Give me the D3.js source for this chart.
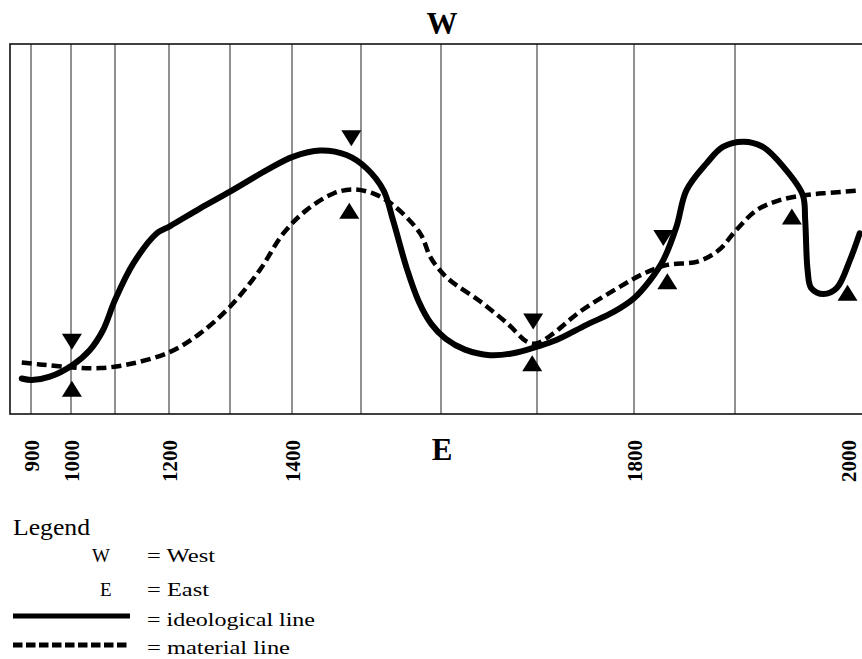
<!DOCTYPE html>
<html>
<head>
<meta charset="utf-8">
<script src="https://cdn.jsdelivr.net/npm/d3@7"></script>
<style>
  html, body { margin: 0; padding: 0; background: #fff; }
  svg { display: block; }
</style>
</head>
<body>
<svg id="chart" width="862" height="659"></svg>
<script>
// ---------------- data ----------------
const gridYears = [900, 1000, 1100, 1200, 1300, 1400, 1500, 1600, 1700, 1800, 1900];
const tickYears = [900, 1000, 1200, 1400, 1800, 2000];
const centerLabelYear = 1600;
const topLabel = "W";
const bottomLabel = "E";

// ideological line (solid): [year, level]
const ideologicalYears = [878, 902, 947, 1003, 1043, 1073, 1100, 1134, 1177, 1202, 1251, 1300, 1359, 1401, 1441, 1479, 1507, 1528, 1540, 1557, 1572, 1588, 1605, 1625, 1651, 1675, 1700, 1720, 1751, 1779, 1800, 1816, 1829, 1842, 1852, 1872, 1888, 1907, 1923, 1940, 1956, 1958, 1960, 1963, 1973, 1984, 1995, 2003];
const ideologicalLevels = [9.6, 9.2, 10.1, 13.2, 17.3, 22.7, 30.8, 40.7, 48.8, 50.8, 55.6, 60.1, 65.9, 69.5, 71.2, 70.0, 66.4, 60.5, 52.4, 39.5, 30.5, 24.3, 20.3, 17.4, 15.9, 16.4, 18.2, 20.0, 24.1, 27.6, 31.3, 36.2, 41.6, 50.6, 60.5, 67.8, 72.2, 73.6, 72.2, 66.8, 59.2, 52.4, 38.9, 34.0, 32.4, 34.0, 41.6, 48.8];

// material line (dashed): [year, level]
const materialYears = [878, 922, 1003, 1066, 1134, 1202, 1251, 1300, 1348, 1386, 1421, 1460, 1488, 1515, 1540, 1574, 1586, 1595, 1609, 1641, 1669, 1690, 1700, 1717, 1744, 1783, 1810, 1833, 1863, 1884, 1901, 1918, 1937, 1959, 1979, 2002];
const materialLevels = [13.9, 13.4, 12.6, 12.4, 13.7, 16.8, 21.8, 29.0, 38.9, 48.8, 55.1, 59.6, 60.7, 59.6, 56.5, 48.8, 42.7, 39.8, 36.2, 30.4, 24.5, 19.5, 19.1, 21.8, 27.6, 34.0, 38.0, 40.3, 41.2, 44.3, 49.7, 55.1, 57.8, 59.2, 59.8, 60.4];

// turning-point markers
const downMarkerYears = [1002, 1486, 1696, 1829];
const downMarkerLevels = [19.5, 74.5, 25.0, 47.6];
const upMarkerYears = [1002, 1483, 1695, 1833, 1947, 1993];
const upMarkerLevels = [6.8, 54.9, 13.7, 35.9, 53.4, 32.8];

// legend
const legendTitle = "Legend";
const legendSymbols = ["W", "E"];
const legendSymbolText = ["= West", "= East"];
const legendLineText = ["= ideological line", "= material line"];

// ---------------- drawing ----------------
const svg = d3.select("#chart");
const serif = "'Liberation Serif', 'Times New Roman', serif";

const plotTop = 44, plotBottom = 414, plotLeft = 10, plotRight = 872;

// the time axis of the original is not uniform: each century gets wider
const x = d3.scaleLinear()
  .domain([850, 900, 1000, 1100, 1200, 1300, 1400, 1500, 1600, 1700, 1800, 1900, 2000])
  .range([10, 31, 71, 115, 169, 230, 292, 361, 441, 537, 634, 735, 856]);
const y = d3.scaleLinear().domain([0, 100]).range([plotBottom, plotTop]);

// gridlines
svg.append("g")
  .selectAll("line")
  .data(gridYears)
  .join("line")
  .attr("x1", d => x(d)).attr("x2", d => x(d))
  .attr("y1", plotTop).attr("y2", plotBottom)
  .attr("stroke", "#222").attr("stroke-width", 1);

// frame
svg.append("rect")
  .attr("x", plotLeft).attr("y", plotTop)
  .attr("width", plotRight - plotLeft).attr("height", plotBottom - plotTop)
  .attr("fill", "none").attr("stroke", "#111").attr("stroke-width", 1.6);

// lines
const line = d3.line()
  .x(d => x(d[0])).y(d => y(d[1]))
  .curve(d3.curveCatmullRom.alpha(0.5));

const ideological = d3.zip(ideologicalYears, ideologicalLevels);
const material = d3.zip(materialYears, materialLevels);

svg.append("path")
  .datum(material)
  .attr("d", line)
  .attr("fill", "none").attr("stroke", "#000")
  .attr("stroke-width", 4.5).attr("stroke-dasharray", "10,5");

svg.append("path")
  .datum(ideological)
  .attr("d", line)
  .attr("fill", "none").attr("stroke", "#000")
  .attr("stroke-width", 6).attr("stroke-linejoin", "round").attr("stroke-linecap", "round");

// markers (triangles ~20 wide, 16 tall)
const triW = 10, triH = 8;
svg.append("g").selectAll("path")
  .data(d3.zip(downMarkerYears, downMarkerLevels))
  .join("path")
  .attr("d", d => {
    const cx = x(d[0]), cy = y(d[1]);
    return `M${cx - triW},${cy - triH}L${cx + triW},${cy - triH}L${cx},${cy + triH}Z`;
  })
  .attr("fill", "#000");

svg.append("g").selectAll("path")
  .data(d3.zip(upMarkerYears, upMarkerLevels))
  .join("path")
  .attr("d", d => {
    const cx = x(d[0]), cy = y(d[1]);
    return `M${cx - triW},${cy + triH}L${cx + triW},${cy + triH}L${cx},${cy - triH}Z`;
  })
  .attr("fill", "#000");

// year labels (rotated), via a D3 axis
const axisG = svg.append("g")
  .attr("transform", `translate(0,${plotBottom})`)
  .call(d3.axisBottom(x).tickValues(tickYears).tickFormat(d3.format("d")).tickSize(0));
axisG.select(".domain").remove();
axisG.selectAll(".tick text")
  .attr("font-family", serif)
  .attr("font-weight", "bold")
  .attr("font-size", 21)
  .attr("fill", "#000")
  .attr("text-anchor", "end")
  .attr("dy", null)
  .attr("y", null)
  // the last label sits at the right edge: nudge it in so it stays inside the page
  .attr("transform", d => `translate(${d === 2000 ? -1 : 7},26) rotate(-90)`);

// W / E labels
svg.append("text")
  .attr("x", x(centerLabelYear) + 1).attr("y", 34)
  .attr("text-anchor", "middle")
  .attr("font-family", serif).attr("font-weight", "bold").attr("font-size", 31)
  .text(topLabel);
svg.append("text")
  .attr("x", x(centerLabelYear) + 1).attr("y", 460)
  .attr("text-anchor", "middle")
  .attr("font-family", serif).attr("font-weight", "bold").attr("font-size", 31)
  .text(bottomLabel);

// legend
const lg = svg.append("g").attr("font-family", serif).attr("fill", "#000");
lg.append("text").attr("x", 13).attr("y", 535).attr("font-size", 23)
  .attr("textLength", 77).attr("lengthAdjust", "spacingAndGlyphs")
  .text(legendTitle);

const symX = [92, 100], symY = [562, 596];
const symTextLen = [68, 62];
legendSymbols.forEach((s, i) => {
  lg.append("text").attr("x", symX[i]).attr("y", symY[i]).attr("font-size", 19).text(s);
  lg.append("text").attr("x", 147).attr("y", symY[i]).attr("font-size", 19)
    .attr("textLength", symTextLen[i]).attr("lengthAdjust", "spacingAndGlyphs")
    .text(legendSymbolText[i]);
});

const lineY = [616, 645], lineTextY = [626, 654], lineTextLen = [168, 143];
lg.append("line").attr("x1", 13).attr("x2", 130).attr("y1", lineY[0]).attr("y2", lineY[0])
  .attr("stroke", "#000").attr("stroke-width", 5);
lg.append("line").attr("x1", 13).attr("x2", 130).attr("y1", lineY[1]).attr("y2", lineY[1])
  .attr("stroke", "#000").attr("stroke-width", 5).attr("stroke-dasharray", "9.5,3.5");
legendLineText.forEach((t, i) => {
  lg.append("text").attr("x", 147).attr("y", lineTextY[i]).attr("font-size", 19)
    .attr("textLength", lineTextLen[i]).attr("lengthAdjust", "spacingAndGlyphs")
    .text(t);
});
</script>
</body>
</html>
